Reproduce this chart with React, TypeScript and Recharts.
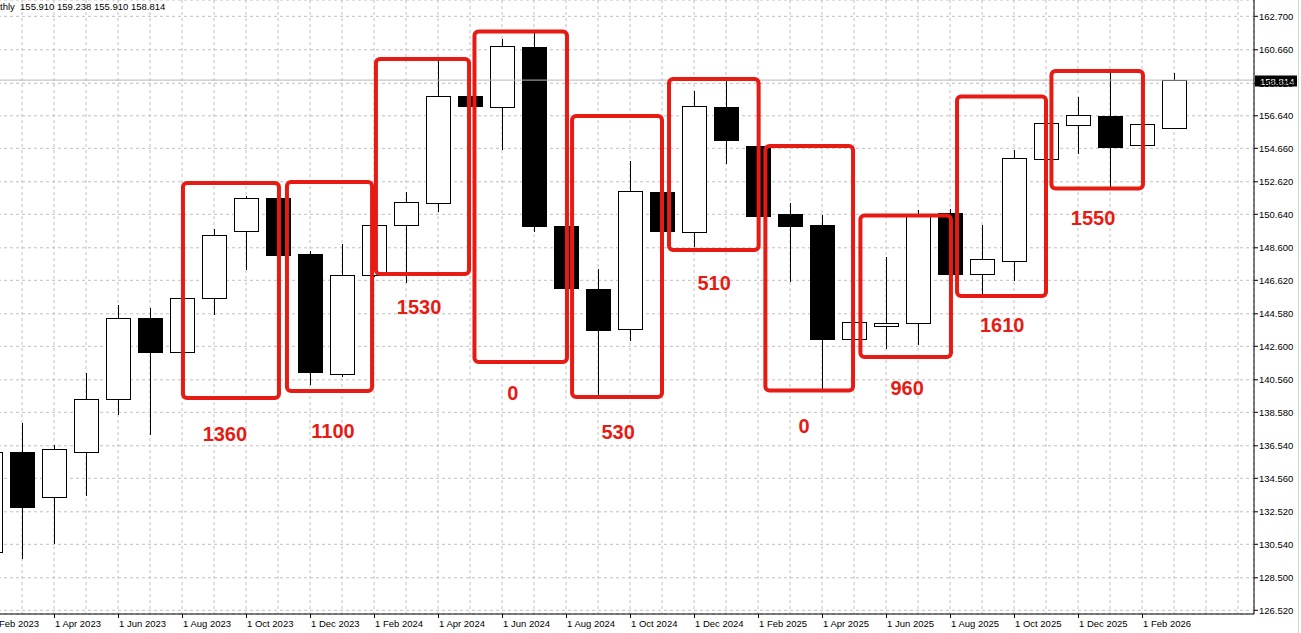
import React from 'react';
import {
  ComposedChart,
  Bar,
  XAxis,
  YAxis,
  CartesianGrid,
  ReferenceArea,
  ReferenceLine,
  ReferenceDot,
} from 'recharts';

const months = [
  'Feb 2023', 'Mar 2023', 'Apr 2023', 'May 2023', 'Jun 2023', 'Jul 2023', 'Aug 2023', 'Sep 2023',
  'Oct 2023', 'Nov 2023', 'Dec 2023', 'Jan 2024', 'Feb 2024', 'Mar 2024', 'Apr 2024', 'May 2024',
  'Jun 2024', 'Jul 2024', 'Aug 2024', 'Sep 2024', 'Oct 2024', 'Nov 2024', 'Dec 2024', 'Jan 2025',
  'Feb 2025', 'Mar 2025', 'Apr 2025', 'May 2025', 'Jun 2025', 'Jul 2025', 'Aug 2025', 'Sep 2025',
  'Oct 2025', 'Nov 2025', 'Dec 2025', 'Jan 2026', 'Feb 2026', 'Mar 2026', 'Apr 2026', 'May 2026',
];
// months that get a date label on the time axis
const labelledMonths = [
  'Feb 2023', 'Apr 2023', 'Jun 2023', 'Aug 2023', 'Oct 2023', 'Dec 2023', 'Feb 2024', 'Apr 2024',
  'Jun 2024', 'Aug 2024', 'Oct 2024', 'Dec 2024', 'Feb 2025', 'Apr 2025', 'Jun 2025', 'Aug 2025',
  'Oct 2025', 'Dec 2025', 'Feb 2026',
];

const opens = [
  130.07, 136.14, 133.4, 136.14, 139.37, 144.31, 142.27, 145.52, 149.6, 151.61, 148.2, 140.89, 146.92,
  149.97, 151.31, 157.83, 157.16, 160.83, 149.93, 146.09, 143.64, 152.0, 149.58, 157.18, 154.8, 150.66,
  149.99, 143.03, 143.82, 144.0, 150.7, 146.99, 147.81, 153.99, 156.06, 156.63, 154.84, 155.91,
];
const highs = [
  136.45, 137.91, 136.59, 140.99, 145.12, 144.91, 145.66, 149.74, 151.77, 151.69, 148.4, 148.81, 150.05,
  152.0, 160.04, 157.88, 161.32, 161.76, 149.96, 147.29, 153.89, 152.03, 158.15, 158.82, 154.83, 151.35,
  150.58, 144.11, 148.04, 150.88, 150.97, 149.99, 154.56, 156.23, 157.78, 159.33, 156.14, 159.238,
];
const lows = [
  129.8, 129.66, 130.54, 133.48, 138.42, 137.2, 142.19, 144.51, 147.25, 148.1, 140.24, 140.75, 146.85,
  146.47, 150.78, 157.21, 154.54, 149.58, 146.12, 139.57, 142.92, 149.59, 148.67, 153.72, 150.51, 146.53,
  139.94, 142.98, 142.42, 142.68, 146.97, 145.72, 146.58, 153.95, 154.31, 152.22, 154.81, 155.91,
];
const closes = [
  136.16, 132.83, 136.33, 139.37, 144.31, 142.27, 145.52, 149.36, 151.61, 148.18, 141.05, 146.92, 149.97,
  151.37, 157.83, 157.25, 160.87, 149.95, 146.17, 143.61, 152.04, 149.64, 157.22, 155.18, 150.55, 149.95,
  143.06, 144.06, 144.0, 150.58, 147.02, 147.9, 154.05, 156.18, 156.67, 154.76, 156.12, 158.814,
];

const priceTicks = [
  162.7, 160.66, 158.62, 156.64, 154.66, 152.62, 150.64, 148.6, 146.62, 144.58, 142.6, 140.56,
  138.58, 136.54, 134.56, 132.52, 130.54, 128.5, 126.52,
];
const lastPrice = 158.814;
const headerText = 'thly  155.910 159.238 155.910 158.814';

// annotation boxes, x in month units (0 = left edge of Feb 2023), y in price
const boxX1 = [6.53, 9.78, 12.56, 15.64, 18.69, 21.72, 24.73, 27.7, 30.72, 33.67];
const boxX2 = [9.53, 12.44, 15.47, 18.53, 21.5, 24.52, 27.47, 30.53, 33.5, 36.53];
const boxTop = [152.55, 152.61, 160.1, 161.77, 156.63, 158.88, 154.8, 150.57, 157.82, 159.37];
const boxBottom = [139.45, 139.88, 147.0, 141.64, 139.51, 148.47, 139.91, 141.95, 145.66, 152.21];
const boxLabels = ['1360', '1100', '1530', '0', '530', '510', '0', '960', '1610', '1550'];
const labelX = [7.84, 11.22, 13.91, 16.84, 20.13, 23.13, 25.94, 29.16, 32.13, 34.97];
const labelY = [137.26, 137.44, 144.99, 139.76, 137.38, 146.46, 137.75, 140.06, 143.9, 150.41];

const FONT = '"Liberation Sans", Arial, sans-serif';
const RED = '#e61b14';
const GRID = '#c0c0c0';

const data = months.map((m, i) =>
  i < opens.length
    ? {
        month: m,
        t: i + 0.5,
        range: [lows[i], highs[i]],
        open: opens[i],
        high: highs[i],
        low: lows[i],
        close: closes[i],
      }
    : { month: m, t: i + 0.5, range: null }
);

const Candle = (props: any) => {
  const { x, y, width, height, payload } = props;
  if (!payload || payload.open == null) return null;
  const top = Math.min(y, y + height);
  const bot = Math.max(y, y + height);
  const { open, close, high, low } = payload;
  const span = high - low || 1;
  const py = (v: number) => top + ((high - v) / span) * (bot - top);
  const cx = Math.round(x + width / 2) + 0.5;
  const bTop = Math.round(py(Math.max(open, close))) + 0.5;
  let bBot = Math.round(py(Math.min(open, close))) + 0.5;
  if (bBot - bTop < 1) bBot = bTop + 1;
  const up = close >= open;
  return (
    <g>
      <line x1={cx} x2={cx} y1={Math.round(top)} y2={Math.round(bot)} stroke="#000" strokeWidth={1} />
      <rect
        x={Math.round(x) + 0.5}
        y={bTop}
        width={24}
        height={bBot - bTop}
        fill={up ? '#fff' : '#000'}
        stroke="#000"
        strokeWidth={1}
      />
    </g>
  );
};

const MonthTick = (props: any) => {
  const { x, y, payload } = props;
  if (!labelledMonths.includes(payload.value)) return null;
  const tx = Math.round(x) + 0.5;
  return (
    <g>
      <line x1={tx} x2={tx} y1={y} y2={y + 4} stroke="#000" />
      <text x={tx + 0.5} y={y + 9.5} dominantBaseline="central" fontSize={9.5} fontFamily={FONT} fill="#000">
        {'1 ' + payload.value}
      </text>
    </g>
  );
};

const PriceTag = (props: any) => {
  const vb = props.viewBox || {};
  const x = (vb.x || 0) + (vb.width || 0);
  const y = vb.y || 0;
  return (
    <g>
      <rect x={x + 1} y={Math.round(y) - 4.5} width={42} height={11} fill="#000" />
      <text x={x + 6} y={Math.round(y) + 1} dominantBaseline="central" fontSize={9.5} fontFamily={FONT} fill="#fff">
        {lastPrice.toFixed(3)}
      </text>
    </g>
  );
};

const BoxShape = (p: any) => (
  <rect x={p.x} y={p.y} width={p.width} height={p.height} rx={4} ry={4} fill="none" stroke={RED} strokeWidth={4} />
);

export default function App() {
  return (
    <div
      style={{
        position: 'absolute',
        left: 0,
        top: 0,
        width: 1301,
        height: 633,
        overflow: 'hidden',
        background: '#fff',
      }}
    >
      <div style={{ position: 'absolute', left: -26, top: 0 }}>
        <ComposedChart width={1327} height={633} data={data} margin={{ top: 0, right: 0, bottom: 0, left: 0 }}>
          <CartesianGrid xAxisId="cat" stroke={GRID} strokeDasharray="3 3" />
          <XAxis
            xAxisId="cat"
            dataKey="month"
            interval={0}
            height={19}
            tickSize={0}
            tickMargin={0}
            tickLine={false}
            axisLine={{ stroke: '#000' }}
            tick={<MonthTick />}
          />
          <XAxis
            xAxisId="pos"
            dataKey="t"
            type="number"
            domain={[0, 40]}
            hide
            allowDataOverflow
          />
          <YAxis
            orientation="right"
            width={47}
            domain={[126.295, 163.693]}
            allowDataOverflow
            ticks={priceTicks}
            interval={0}
            tickSize={4}
            tickMargin={1}
            axisLine={{ stroke: '#000' }}
            tickLine={{ stroke: '#000' }}
            tick={{ fill: '#000', fontSize: 9.5, fontFamily: FONT }}
            tickFormatter={(v: number) => v.toFixed(3)}
          />
          <ReferenceLine xAxisId="cat" y={lastPrice} stroke="#b8b8b8" strokeWidth={1} label={<PriceTag />} />
          <Bar xAxisId="cat" dataKey="range" barSize={24} shape={<Candle />} isAnimationActive={false} />
          {boxLabels.map((lab, i) => (
            <ReferenceArea
              key={'b' + i}
              xAxisId="pos"
              x1={boxX1[i]}
              x2={boxX2[i]}
              y1={boxTop[i]}
              y2={boxBottom[i]}
              ifOverflow="visible"
              shape={BoxShape}
              zIndex={700}
            />
          ))}
          {boxLabels.map((lab, i) => (
            <ReferenceDot
              key={'l' + i}
              xAxisId="pos"
              x={labelX[i]}
              y={labelY[i]}
              r={0}
              fill="none"
              stroke="none"
              ifOverflow="visible"
              zIndex={700}
              label={{
                value: lab,
                position: 'center',
                fill: RED,
                fontSize: 20,
                fontWeight: 'bold',
                fontFamily: FONT,
              }}
            />
          ))}
        </ComposedChart>
      </div>
      <div
        style={{
          position: 'absolute',
          left: 0,
          top: 1,
          fontSize: 9.5,
          lineHeight: '12px',
          fontFamily: FONT,
          whiteSpace: 'pre',
          color: '#000',
        }}
      >
        {headerText}
      </div>
      <div style={{ position: 'absolute', left: 1298, top: 0, width: 1, height: 633, background: '#d4d4d4' }} />
    </div>
  );
}
